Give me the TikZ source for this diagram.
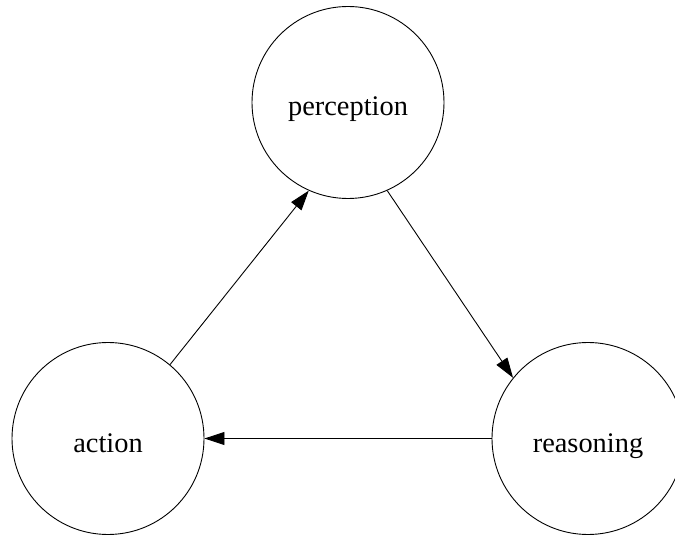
\documentclass[tikz,border=0pt]{standalone}
\usepackage{fontspec}
\setmainfont{Liberation Serif}
\usepackage{tikz}
\usetikzlibrary{arrows.meta,positioning}

\begin{document}
\begin{tikzpicture}[
  x=1pt, y=1pt,
  stage/.style={circle, draw, line width=0.9pt, minimum size=192pt, inner sep=0pt, text height=27pt, text depth=0pt, font=\fontsize{28.4}{34}\selectfont},
  flow/.style={draw, line width=0.9pt, -{Triangle[length=20pt, width=13pt]}}
]
\useasboundingbox (0,0) rectangle (675,536);
\node[stage] (perception) at (348, 433.5) {perception};
\node[stage] (action) at (108, 97.5) {action};
\node[stage] (reasoning) at (588, 97.5) {reasoning};
\draw[flow] (perception.-66) -- (reasoning.141);
\draw[flow] (reasoning.west) -- (action.east);
\draw[flow] (action.50) -- (perception.246);
\end{tikzpicture}
\end{document}
